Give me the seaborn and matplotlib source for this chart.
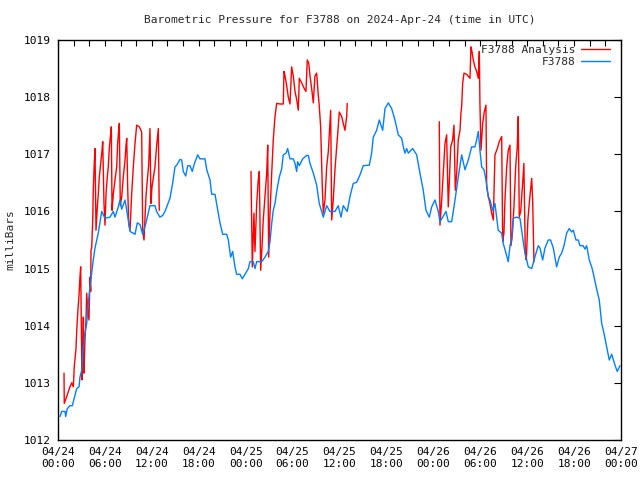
import numpy as np
import pandas as pd
import matplotlib
matplotlib.use('Agg')
import matplotlib.pyplot as plt
import matplotlib.dates as mdates
from matplotlib.lines import Line2D
import seaborn as sns

# ── Data (hours since 2024-04-24 00:00 UTC, pressure in mbar) ────────────────
START = pd.Timestamp('2024-04-24 00:00')

station_hours = [
    0.26, 0.47, 0.9, 0.98, 1.19, 1.53, 1.83, 1.96, 2.17, 2.39, 2.69, 2.81, 3.03, 3.16, 3.32, 3.45,
    3.67, 3.87, 4.09, 4.31, 4.51, 4.73, 5.15, 5.59, 6.01, 6.65, 7.07, 7.29, 7.71, 7.93, 8.15, 8.57,
    8.99, 9.21, 9.85, 10.14, 10.49, 10.83, 11.25, 11.76, 12.4, 12.62, 13.03, 13.39, 13.68, 14.32,
    14.67, 14.96, 15.18, 15.6, 15.82, 16.02, 16.33, 16.59, 16.88, 17.17, 17.43, 17.86, 18.16, 18.8,
    19.02, 19.44, 19.65, 20.08, 20.29, 20.72, 21.06, 21.57, 21.78, 22.08, 22.34, 22.63, 22.85, 23.27,
    23.57, 23.91, 24.34, 24.55, 24.97, 25.19, 25.41, 26.05, 26.47, 26.89, 27.11, 27.33, 27.53, 27.75,
    27.97, 28.3, 28.61, 28.81, 29.16, 29.37, 29.67, 30.09, 30.31, 30.52, 30.65, 30.86, 31.29, 31.8,
    32.01, 32.23, 32.65, 33.08, 33.41, 33.72, 33.93, 34.36, 34.78, 35.42, 35.84, 36.19, 36.48, 36.99,
    37.34, 37.76, 38.2, 38.62, 39.04, 39.81, 40.11, 40.32, 40.75, 41.09, 41.52, 41.82, 42.24, 42.67,
    43.09, 43.52, 43.95, 44.16, 44.37, 44.59, 44.8, 45.36, 45.87, 46.29, 46.71, 47.06, 47.48, 47.79,
    48.21, 48.63, 48.85, 49.62, 49.91, 50.35, 50.77, 51.19, 51.62, 52.05, 52.47, 52.9, 53.32, 53.54,
    53.75, 53.96, 54.18, 54.48, 54.73, 55.03, 55.24, 55.59, 55.88, 56.1, 56.3, 56.74, 56.94, 57.29,
    57.58, 57.8, 58.02, 58.22, 58.66, 59.08, 59.5, 59.72, 59.94, 60.14, 60.58, 60.78, 61.13, 61.42,
    61.64, 61.98, 62.28, 62.7, 63.0, 63.34, 63.77, 64.1, 64.41, 64.71, 65.05, 65.38, 65.69, 65.9,
    66.24, 66.53, 66.75, 67.17, 67.39, 67.61, 67.94, 68.25, 68.45, 68.89, 69.22, 69.53, 69.82, 70.17,
    70.5, 70.81, 71.23, 71.52, 71.87,
]
station_values = [
    1012.41, 1012.5, 1012.5, 1012.41, 1012.55, 1012.6, 1012.6, 1012.67, 1012.79, 1012.9, 1012.93,
    1013.1, 1013.22, 1013.52, 1013.7, 1013.87, 1014.04, 1014.39, 1014.68, 1014.92, 1015.15, 1015.36,
    1015.62, 1016.0, 1015.88, 1015.9, 1016.0, 1015.9, 1016.08, 1016.2, 1016.04, 1016.2, 1015.85,
    1015.65, 1015.6, 1015.8, 1015.77, 1015.6, 1015.8, 1016.1, 1016.1, 1016.0, 1015.9, 1015.93,
    1016.0, 1016.23, 1016.5, 1016.78, 1016.81, 1016.91, 1016.9, 1016.7, 1016.62, 1016.8, 1016.8,
    1016.7, 1016.83, 1016.99, 1016.92, 1016.92, 1016.73, 1016.55, 1016.3, 1016.3, 1016.13, 1015.8,
    1015.6, 1015.6, 1015.5, 1015.2, 1015.3, 1015.03, 1014.9, 1014.9, 1014.82, 1014.9, 1015.0,
    1015.12, 1015.12, 1015.0, 1015.12, 1015.12, 1015.2, 1015.3, 1015.47, 1015.79, 1016.02, 1016.14,
    1016.35, 1016.6, 1016.75, 1016.99, 1017.02, 1017.1, 1016.92, 1016.92, 1016.84, 1016.7, 1016.87,
    1016.8, 1016.92, 1016.98, 1016.98, 1016.84, 1016.67, 1016.46, 1016.14, 1016.0, 1015.9, 1016.1,
    1016.0, 1016.0, 1016.1, 1015.9, 1016.1, 1016.0, 1016.26, 1016.49, 1016.51, 1016.64, 1016.8,
    1016.81, 1017.02, 1017.3, 1017.42, 1017.6, 1017.42, 1017.8, 1017.9, 1017.8, 1017.6, 1017.34,
    1017.28, 1017.13, 1017.02, 1017.1, 1017.02, 1017.1, 1016.99, 1016.67, 1016.37, 1016.02, 1015.9,
    1016.08, 1016.2, 1016.0, 1015.82, 1016.0, 1015.82, 1015.82, 1016.2, 1016.6, 1016.99, 1016.73,
    1016.9, 1017.13, 1017.13, 1017.25, 1017.4, 1017.07, 1016.78, 1016.73, 1016.55, 1016.26, 1016.2,
    1016.02, 1016.14, 1015.9, 1015.67, 1015.62, 1015.44, 1015.27, 1015.12, 1015.4, 1015.5, 1015.88,
    1015.9, 1015.88, 1015.47, 1015.27, 1015.15, 1015.03, 1015.0, 1015.1, 1015.27, 1015.4, 1015.36,
    1015.15, 1015.36, 1015.5, 1015.5, 1015.36, 1015.03, 1015.2, 1015.27, 1015.4, 1015.62, 1015.7,
    1015.64, 1015.67, 1015.5, 1015.5, 1015.4, 1015.4, 1015.34, 1015.4, 1015.15, 1015.03, 1014.92,
    1014.64, 1014.45, 1014.04, 1013.87, 1013.63, 1013.4, 1013.5, 1013.31, 1013.2, 1013.3,
]

# analysis trace comes in three separate runs
analysis1_hours = [
    0.77, 0.8, 1.11, 1.53, 1.75, 1.96, 2.08, 2.3, 2.39, 2.52, 2.69, 2.81, 2.9, 2.98, 3.07, 3.16,
    3.24, 3.32, 3.45, 3.58, 3.67, 3.8, 3.96, 4.09, 4.18, 4.22, 4.31, 4.44, 4.51, 4.64, 4.73, 4.86,
    5.03, 5.15, 5.28, 5.46, 5.63, 5.72, 5.88, 6.01, 6.14, 6.3, 6.43, 6.56, 6.74, 6.82, 6.91, 7.07,
    7.29, 7.51, 7.63, 7.76, 7.84, 7.97, 8.15, 8.35, 8.57, 8.7, 8.79, 8.91, 9.04, 9.21, 9.42, 9.63,
    9.85, 10.06, 10.4, 10.7, 10.83, 11.0, 11.13, 11.25, 11.42, 11.6, 11.76, 11.89, 12.02, 12.4,
    12.62, 12.83, 12.95,
]
analysis1_values = [
    1013.17, 1012.64, 1012.76, 1012.93, 1013.0, 1012.93, 1013.28, 1013.6, 1013.9, 1014.22, 1014.54,
    1014.86, 1015.03, 1014.04, 1013.05, 1013.4, 1014.15, 1013.17, 1013.75, 1014.1, 1014.57, 1014.3,
    1014.1, 1014.85, 1014.6, 1015.32, 1015.36, 1015.85, 1016.37, 1016.84, 1017.1, 1015.67, 1016.08,
    1016.3, 1016.6, 1016.84, 1017.07, 1017.22, 1016.14, 1015.76, 1016.3, 1016.6, 1016.78, 1017.1,
    1017.37, 1017.48, 1016.02, 1016.3, 1016.55, 1016.78, 1017.19, 1017.42, 1017.54, 1016.1, 1016.26,
    1016.6, 1016.9, 1017.16, 1017.28, 1016.43, 1015.79, 1015.67, 1016.3, 1016.78, 1017.19, 1017.51,
    1017.48, 1017.39, 1015.67, 1015.5, 1015.9, 1016.26, 1016.55, 1016.81, 1017.45, 1016.14, 1016.43,
    1016.78, 1017.16, 1017.45, 1016.02,
]
analysis2_hours = [
    24.68, 24.85, 25.06, 25.19, 25.41, 25.61, 25.74, 25.92, 26.09, 26.25, 26.47, 26.69, 26.82, 26.94,
    27.11, 27.33, 27.53, 27.75, 27.97, 28.39, 28.81, 28.9, 29.03, 29.25, 29.45, 29.67, 29.88, 30.09,
    30.31, 30.52, 30.73, 30.86, 31.16, 31.46, 31.71, 31.88, 32.06, 32.23, 32.44, 32.65, 32.86, 33.08,
    33.29, 33.41, 33.59, 33.8, 33.93, 34.14, 34.36, 34.57, 34.69, 34.87, 35.0, 35.2, 35.42, 35.64,
    35.84, 35.97, 36.28, 36.48, 36.7, 36.92, 36.99,
]
analysis2_values = [
    1016.7, 1015.03, 1015.97, 1015.3, 1016.14, 1016.55, 1016.7, 1014.97, 1015.38, 1015.85, 1016.26,
    1016.67, 1017.16, 1015.2, 1015.97, 1016.67, 1017.25, 1017.66, 1017.89, 1017.88, 1017.88, 1018.45,
    1018.37, 1018.2, 1018.0, 1017.88, 1018.53, 1018.37, 1018.1, 1017.96, 1017.77, 1018.33, 1018.25,
    1018.16, 1018.1, 1018.65, 1018.6, 1018.37, 1018.15, 1017.9, 1018.37, 1018.42, 1018.03, 1017.85,
    1017.48, 1016.43, 1015.97, 1016.2, 1016.78, 1017.05, 1017.34, 1017.77, 1015.85, 1016.2, 1016.73,
    1017.13, 1017.48, 1017.74, 1017.66, 1017.54, 1017.42, 1017.66, 1017.89,
]
analysis3_hours = [
    48.76, 48.85, 49.07, 49.27, 49.49, 49.7, 49.91, 50.04, 50.22, 50.47, 50.64, 50.81, 50.99, 51.19,
    51.41, 51.53, 51.62, 51.75, 51.92, 52.26, 52.69, 52.81, 52.94, 53.11, 53.32, 53.54, 53.75, 53.88,
    53.96, 54.09, 54.31, 54.51, 54.73, 54.82, 55.03, 55.24, 55.46, 55.67, 55.88, 56.18, 56.43, 56.74,
    56.87, 57.03, 57.16, 57.38, 57.58, 57.8, 57.93, 58.1, 58.31, 58.53, 58.73, 58.86, 58.99, 59.17,
    59.42, 59.58, 59.76, 59.89, 60.09, 60.31, 60.58, 60.7, 60.87,
]
analysis3_values = [
    1017.57, 1015.76, 1016.2, 1016.67, 1017.19, 1017.34, 1016.08, 1016.5, 1017.13, 1017.25, 1017.51,
    1016.37, 1016.67, 1017.25, 1017.42, 1017.72, 1017.83, 1018.24, 1018.42, 1018.4, 1018.33, 1018.88,
    1018.8, 1018.65, 1018.53, 1018.45, 1018.33, 1018.8, 1017.89, 1017.07, 1017.54, 1017.74, 1017.86,
    1016.43, 1016.26, 1016.14, 1015.97, 1015.85, 1016.99, 1017.1, 1017.22, 1017.31, 1015.47, 1015.62,
    1016.2, 1016.78, 1017.07, 1017.16, 1015.4, 1015.6, 1016.08, 1016.78, 1017.13, 1017.66, 1015.9,
    1016.0, 1016.49, 1016.84, 1015.27, 1015.15, 1015.85, 1016.2, 1016.58, 1016.2, 1015.12,
]

RED = '#ff0000'
BLUE = '#0080ff'

# ── Frames ───────────────────────────────────────────────────────────────────
station = pd.DataFrame({
    'time': START + pd.to_timedelta(station_hours, unit='h'),
    'p': station_values,
})
parts = []
for i, (hh, vv) in enumerate([(analysis1_hours, analysis1_values),
                              (analysis2_hours, analysis2_values),
                              (analysis3_hours, analysis3_values)]):
    parts.append(pd.DataFrame({'time': START + pd.to_timedelta(hh, unit='h'),
                               'p': vv, 'seg': i}))
analysis = pd.concat(parts, ignore_index=True)

# ── Plot ─────────────────────────────────────────────────────────────────────
sns.set_style('white')
plt.rcParams['font.family'] = ['DejaVu Sans Mono']
plt.rcParams['font.size'] = 8

fig = plt.figure(figsize=(6.4, 4.8), dpi=100)
ax = fig.add_axes([58 / 640, 40 / 480, 563 / 640, 400 / 480])

sns.lineplot(data=analysis, x='time', y='p', units='seg', estimator=None, sort=False,
             color=RED, linewidth=1.0, ax=ax)
sns.lineplot(data=station, x='time', y='p', estimator=None, sort=False,
             color=BLUE, linewidth=1.0, ax=ax)

ax.set_xlim(START, START + pd.Timedelta(hours=72))
ax.set_ylim(1012, 1019)
ax.set_yticks(np.arange(1012, 1020, 1))
ax.xaxis.set_major_locator(mdates.HourLocator(byhour=[0, 6, 12, 18]))
ax.xaxis.set_minor_locator(mdates.HourLocator(byhour=range(0, 24, 2)))
ax.xaxis.set_major_formatter(mdates.DateFormatter('%m/%d\n%H:%M'))

ax.tick_params(axis='both', which='both', direction='in', top=True, right=True,
               colors='black', labelsize=8, width=0.8)
ax.tick_params(axis='x', which='both', length=4, pad=5)
ax.tick_params(axis='y', which='major', length=5, pad=5)
for s in ax.spines.values():
    s.set_color('black')
    s.set_linewidth(1.0)

ax.set_xlabel('')
ax.set_ylabel('milliBars', fontsize=8, labelpad=6)
ax.set_title('Barometric Pressure for F3788 on 2024-Apr-24 (time in UTC)', fontsize=8, pad=12)

handles = [Line2D([], [], color=RED, linewidth=1.0), Line2D([], [], color=BLUE, linewidth=1.0)]
ax.legend(handles, ['F3788 Analysis', 'F3788'], loc='upper right',
          bbox_to_anchor=(0.983, 0.99), frameon=False,
          markerfirst=False, fontsize=8, handlelength=2.6, handletextpad=0.5,
          labelspacing=0.2, borderaxespad=0.0, borderpad=0.1)

fig.savefig('out.png', dpi=100)
